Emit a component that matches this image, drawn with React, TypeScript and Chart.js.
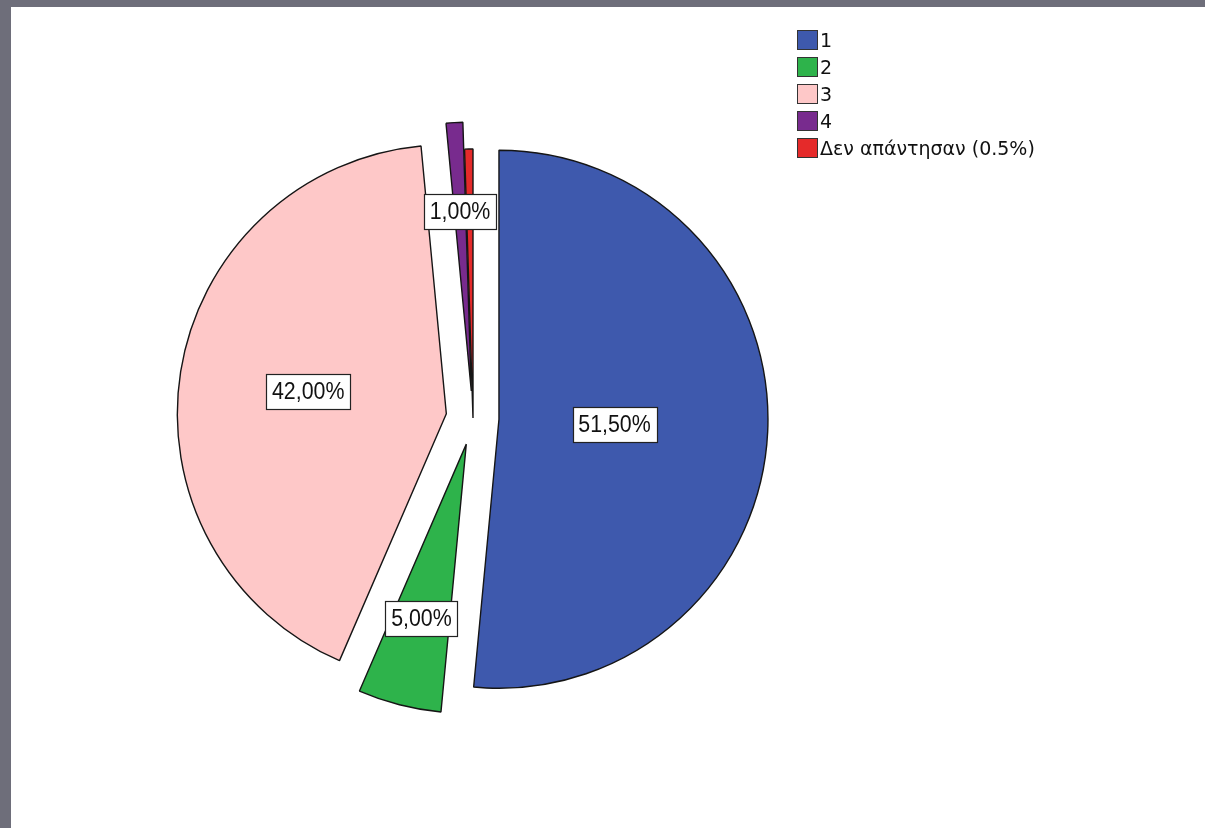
import React, { useEffect, useRef } from "react";
import { Chart, registerables } from "chart.js";

Chart.register(...registerables);

// ---- data ----
const categories: string[] = ["1", "2", "3", "4", "Δεν απάντησαν (0.5%)"];
const percentages: number[] = [51.5, 5, 42, 1, 0.5];
const showValueLabel: boolean[] = [true, true, true, true, false];

// ---- styles ----
const sliceColors: string[] = ["#3E59AD", "#2EB34B", "#FEC8C8", "#782B8E", "#E52A2A"];
const explodePx: number[] = [26, 27, 27, 27, 0]; // translation in pixels
const labelRadiusFrac: number[] = [0.43, 0.67, 0.52, 0.67, 0];
const PIE_RADIUS = 269;

const fmt = (v: number) => v.toFixed(2).replace(".", ",") + "%";

// Chart.js grows the radius and trims the angle of offset arcs; undo that so
// exploded slices keep the same radius and their full angle.
const radiusFixPlugin = {
  id: "radiusFix",
  afterDatasetsUpdate(chart: any) {
    const meta = chart.getDatasetMeta(0);
    const R = meta.controller.outerRadius;
    meta.data.forEach((el: any, i: number) => {
      const t = explodePx[i] || 0;
      const circ = el.circumference;
      const fix = 1 - Math.sin(Math.min(Math.PI, circ));
      const radiusOffset = t * fix;
      el.outerRadius = R - radiusOffset;
      const widen = radiusOffset / (2 * Math.PI * R);
      el.startAngle = el.startAngle - widen;
      el.endAngle = el.endAngle + widen;
    });
  },
};

const valueLabelPlugin = {
  id: "valueLabels",
  afterDatasetsDraw(chart: any) {
    const ctx = chart.ctx;
    const meta = chart.getDatasetMeta(0);
    const R = meta.controller.outerRadius;
    const sx = 0.93;
    ctx.save();
    ctx.font = '23px "Liberation Sans", Arial, sans-serif';
    ctx.textAlign = "center";
    ctx.textBaseline = "middle";
    meta.data.forEach((el: any, i: number) => {
      if (!showValueLabel[i]) return;
      const mid = (el.startAngle + el.endAngle) / 2;
      const d = (explodePx[i] || 0) + labelRadiusFrac[i] * R;
      const cx = el.x + Math.cos(mid) * d;
      const cy = el.y + Math.sin(mid) * d;
      const text = fmt(percentages[i]);
      const w = Math.round(ctx.measureText(text).width * sx + 11);
      const h = 35;
      const x0 = Math.round(cx - w / 2) + 0.5;
      const y0 = Math.round(cy - h / 2) + 0.5;
      ctx.fillStyle = "#ffffff";
      ctx.fillRect(x0, y0, w, h);
      ctx.strokeStyle = "#222222";
      ctx.lineWidth = 1.2;
      ctx.strokeRect(x0, y0, w, h);
      ctx.fillStyle = "#111111";
      ctx.save();
      ctx.translate(cx, cy + 1);
      ctx.scale(sx, 1);
      ctx.fillText(text, 0, 0);
      ctx.restore();
    });
    ctx.restore();
  },
};

export default function App() {
  const canvasRef = useRef<HTMLCanvasElement | null>(null);

  useEffect(() => {
    if (!canvasRef.current) return;
    const chart = new Chart(canvasRef.current, {
      type: "pie",
      data: {
        labels: categories,
        datasets: [
          {
            data: percentages,
            backgroundColor: sliceColors,
            borderColor: "#151515",
            borderWidth: 1.4,
            offset: explodePx.map((p) => p * 4),
            hoverOffset: 0,
          } as any,
        ],
      },
      options: {
        animation: false,
        responsive: false,
        radius: PIE_RADIUS,
        layout: { padding: { left: 0, right: 259, top: 8, bottom: 0 } },
        plugins: {
          legend: { display: false },
          tooltip: { enabled: false },
        },
        events: [],
      } as any,
      plugins: [radiusFixPlugin, valueLabelPlugin],
    });
    return () => chart.destroy();
  }, []);

  return (
    <div
      style={{
        position: "absolute",
        left: 0,
        top: 0,
        width: 1205,
        height: 828,
        boxSizing: "border-box",
        background: "#ffffff",
        borderTop: "7px solid #6e6e7a",
        borderLeft: "11px solid #6e6e7a",
        overflow: "hidden",
      }}
    >
      <canvas
        ref={canvasRef}
        width={1205}
        height={828}
        style={{ position: "absolute", left: -11, top: -7, width: 1205, height: 828 }}
      />
      <div
        style={{
          position: "absolute",
          left: 797 - 11,
          top: 26 - 7,
          fontFamily: '"DejaVu Sans", sans-serif',
          fontSize: 19,
          color: "#111",
        }}
      >
        {categories.map((c, i) => (
          <div key={c} style={{ display: "flex", alignItems: "center", height: 27 }}>
            <span
              style={{
                display: "inline-block",
                width: 21,
                height: 20,
                boxSizing: "border-box",
                border: "1px solid #333",
                background: sliceColors[i],
                marginRight: 2,
              }}
            />
            <span style={{ lineHeight: "20px" }}>{c}</span>
          </div>
        ))}
      </div>
    </div>
  );
}
